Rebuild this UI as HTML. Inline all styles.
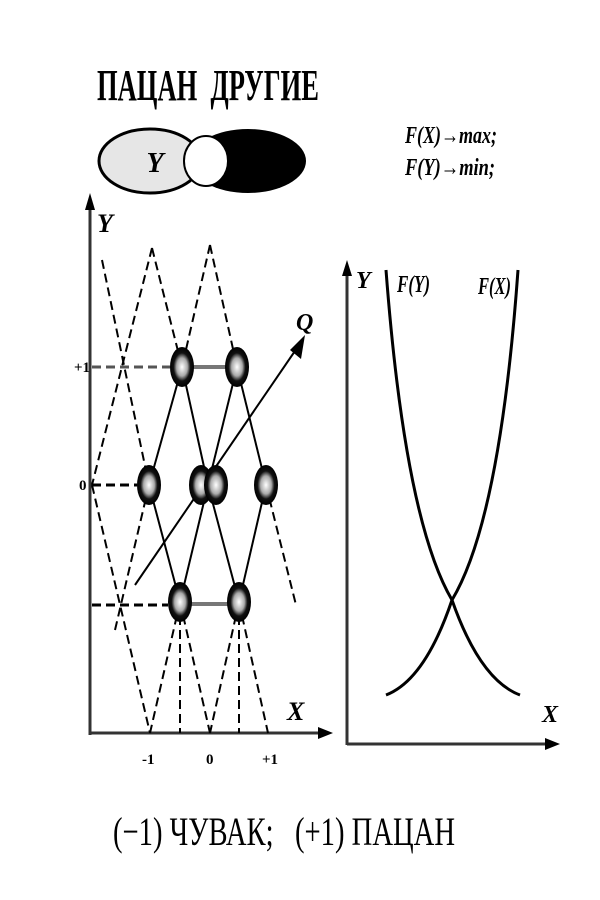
<!DOCTYPE html>
<html><head><meta charset="utf-8"><style>body{margin:0;background:#fff}svg{display:block}</style></head>
<body>
<svg width="600" height="900" viewBox="0 0 600 900" xmlns="http://www.w3.org/2000/svg" font-family="'Liberation Serif', serif">
<defs>
<radialGradient id="g" cx="50%" cy="50%" r="50%">
<stop offset="0" stop-color="#fff"/><stop offset="0.45" stop-color="#aaa"/><stop offset="0.7" stop-color="#111"/><stop offset="1" stop-color="#000"/>
</radialGradient>
</defs>
<text x="97" y="100" font-size="44" font-weight="bold" textLength="222" lengthAdjust="spacingAndGlyphs">ПАЦАН&#160;&#160;ДРУГИЕ</text>
<ellipse cx="248" cy="161" rx="58" ry="32" fill="#000"/>
<ellipse cx="150" cy="161" rx="51" ry="32" fill="#e6e6e6" stroke="#000" stroke-width="3"/>
<ellipse cx="206" cy="161" rx="22" ry="25" fill="#fff" stroke="#000" stroke-width="2"/>
<text x="155" y="172" font-size="28" font-style="italic" font-weight="bold" text-anchor="middle">Y</text>
<g font-size="24" font-weight="bold" font-style="italic">
<text x="405" y="143" textLength="92" lengthAdjust="spacingAndGlyphs">F(X)→max;</text>
<text x="405" y="175" textLength="90" lengthAdjust="spacingAndGlyphs">F(Y)→min;</text>
</g>
<g stroke="#333" stroke-width="3" fill="none">
<line x1="90" y1="735" x2="90" y2="205"/>
<line x1="90" y1="733" x2="325" y2="733"/>
</g>
<polygon points="90,193 85,210 95,210" fill="#000"/>
<polygon points="333,733 318,727 318,739" fill="#000"/>
<text x="97" y="232" font-size="26" font-style="italic" font-weight="bold">Y</text>
<text x="287" y="720" font-size="26" font-style="italic" font-weight="bold">X</text>
<g font-size="15" font-weight="bold">
<text x="74" y="372">+1</text><text x="79" y="490">0</text>
<text x="142" y="764">-1</text><text x="206" y="764">0</text><text x="262" y="764">+1</text>
</g>
<g stroke="#000" stroke-width="2" stroke-dasharray="9,5" fill="none">
<line x1="152" y1="248" x2="92" y2="485"/><line x1="92" y1="485" x2="150" y2="733"/>
<line x1="152" y1="248" x2="182" y2="367"/><line x1="210" y1="245" x2="182" y2="367"/>
<line x1="210" y1="245" x2="237" y2="367"/>
<line x1="102" y1="260" x2="149" y2="485"/>
<line x1="149" y1="485" x2="115" y2="630"/>
<line x1="266" y1="485" x2="296" y2="605"/>
<line x1="180" y1="602" x2="150" y2="733"/><line x1="180" y1="602" x2="180" y2="733"/>
<line x1="180" y1="602" x2="210" y2="733"/><line x1="239" y1="602" x2="210" y2="733"/>
<line x1="239" y1="602" x2="239" y2="733"/><line x1="239" y1="602" x2="268" y2="733"/>
<line x1="92" y1="367" x2="170" y2="367" stroke="#555" stroke-width="3"/>
<line x1="92" y1="485" x2="137" y2="485" stroke-width="3"/>
<line x1="92" y1="605" x2="168" y2="605" stroke-width="3"/>
</g>
<g stroke="#000" stroke-width="2" fill="none">
<line x1="182" y1="367" x2="149" y2="485"/><line x1="182" y1="367" x2="208" y2="485"/>
<line x1="237" y1="367" x2="208" y2="485"/><line x1="237" y1="367" x2="266" y2="485"/>
<line x1="149" y1="485" x2="180" y2="602"/><line x1="208" y1="485" x2="180" y2="602"/>
<line x1="208" y1="485" x2="239" y2="602"/><line x1="266" y1="485" x2="239" y2="602"/>
<line x1="182" y1="367" x2="237" y2="367" stroke="#777" stroke-width="4"/>
<line x1="180" y1="604" x2="239" y2="604" stroke="#777" stroke-width="4"/>
<line x1="135" y1="585" x2="297" y2="348"/>
</g>
<polygon points="305,335 290,350 301,359" fill="#000"/>
<text x="296" y="330" font-size="24" font-style="italic" font-weight="bold">Q</text>
<g fill="url(#g)">
<ellipse cx="182" cy="367" rx="12" ry="20"/><ellipse cx="237" cy="367" rx="12" ry="20"/>
<ellipse cx="149" cy="485" rx="12" ry="20"/><ellipse cx="201" cy="485" rx="12" ry="20"/>
<ellipse cx="216" cy="485" rx="12" ry="20"/><ellipse cx="266" cy="485" rx="12" ry="20"/>
<ellipse cx="180" cy="602" rx="12" ry="20"/><ellipse cx="239" cy="602" rx="12" ry="20"/>
</g>
<g stroke="#333" stroke-width="3" fill="none">
<line x1="347" y1="745" x2="347" y2="272"/>
<line x1="347" y1="744" x2="550" y2="744"/>
</g>
<polygon points="347,260 342,276 352,276" fill="#000"/>
<polygon points="560,744 545,738 545,750" fill="#000"/>
<g stroke="#000" stroke-width="3" fill="none">
<path d="M386,270 Q405,520 452,600 Q480,680 520,695"/>
<path d="M518,270 Q500,520 452,600 Q425,680 386,695"/>
</g>
<g font-style="italic" font-weight="bold">
<text x="356" y="288" font-size="24">Y</text>
<text x="397" y="292" font-size="24" textLength="33" lengthAdjust="spacingAndGlyphs">F(Y)</text>
<text x="478" y="294" font-size="24" textLength="33" lengthAdjust="spacingAndGlyphs">F(X)</text>
<text x="542" y="722" font-size="24">X</text>
</g>
<text x="113" y="845" font-size="40" textLength="342" lengthAdjust="spacingAndGlyphs">(−1)&#160;ЧУВАК;&#160;&#160;&#160;(+1)&#160;ПАЦАН</text>
</svg>
</body></html>
